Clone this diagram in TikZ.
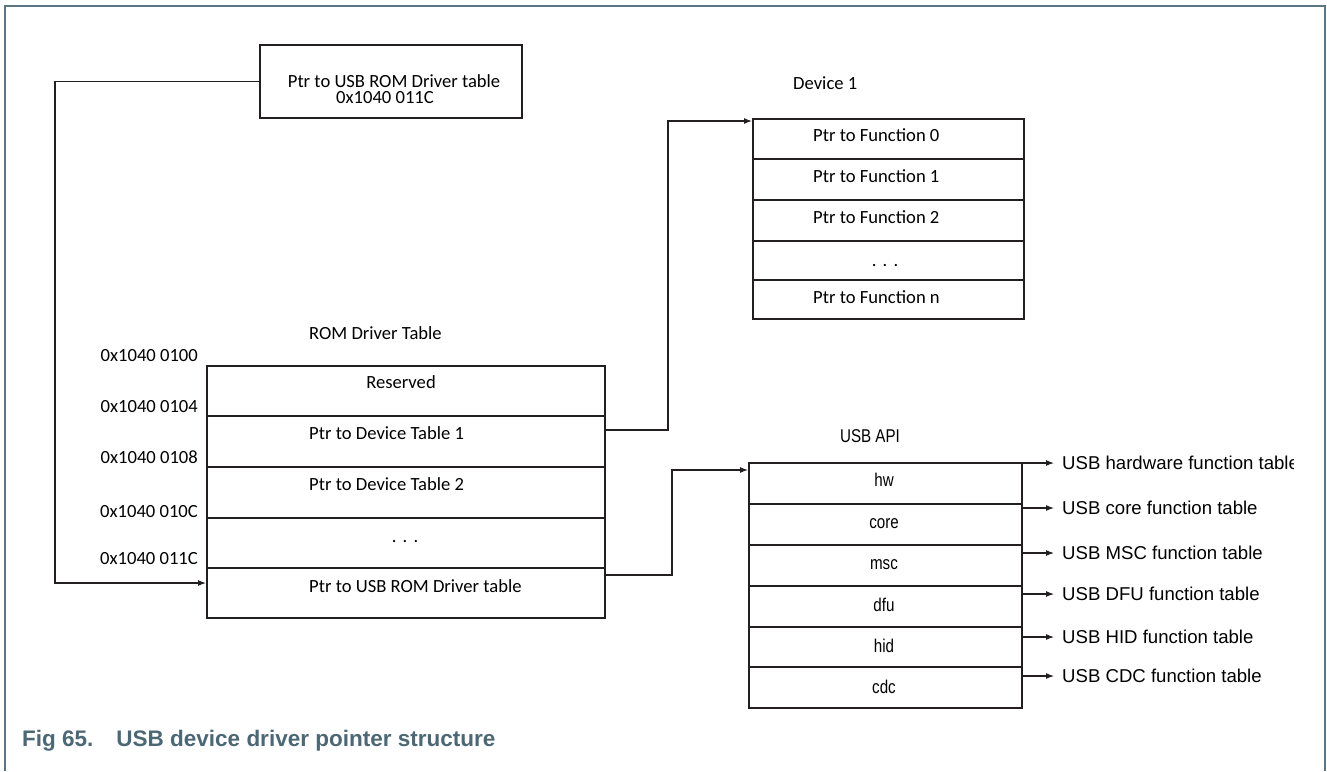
\documentclass[tikz,border=0pt]{standalone}
\usepackage{fontspec}
\setmainfont{Carlito}
\newfontfamily\ari{Liberation Sans}
\newfontfamily\nar[FakeStretch=0.82]{Liberation Sans}
\usetikzlibrary{arrows.meta,calc}
\definecolor{framec}{HTML}{5B7582}
\definecolor{capc}{HTML}{4D6875}
\definecolor{ink}{HTML}{231F20}
\begin{document}
\begin{tikzpicture}[x=1pt,y=-1pt,
  cell/.style={draw=ink,line width=2pt,inner sep=0pt,outer sep=0pt},
  txt/.style={inner sep=0pt,text height=12pt,text depth=0pt,font=\fontsize{18.6}{16}\selectfont},
  ntxt/.style={inner sep=0pt,text height=13pt,text depth=0pt,font=\nar\fontsize{18.5}{18}\selectfont},
  atxt/.style={inner sep=0pt,text height=13.3pt,text depth=0pt,font=\ari\fontsize{18.6}{18}\selectfont},
  conn/.style={draw=ink,line width=1.1pt},
  arr/.style={conn,-{Latex[length=8pt,width=6pt]}},
]
\useasboundingbox (0,0) rectangle (1327,771);
% frame
\draw[framec,line width=1.5pt] (5,771) -- (5,6) -- (1325,6) -- (1325,771);

% top box
\node[cell,minimum width=262pt,minimum height=73pt] (tb) at (391,81.5) {};
\node[txt] (tbt1) at (394,81) {Ptr to USB ROM Driver table};
\node[txt] (tbt2) at (385,97) {0x1040 011C};

% ROM driver table
\node[txt,anchor=west] (romlbl) at (309,333) {ROM Driver Table};
\node[cell,minimum width=398pt,minimum height=50pt] (rres) at (406,391) {};
\node[cell,minimum width=398pt,minimum height=51pt] (rd1) at (406,441.5) {};
\node[cell,minimum width=398pt,minimum height=51pt] (rd2) at (406,492.5) {};
\node[cell,minimum width=398pt,minimum height=50pt] (rdots) at (406,543) {};
\node[cell,minimum width=398pt,minimum height=50pt] (rusb) at (406,593) {};
\node[txt] (trres) at (401,382) {Reserved};
\node[txt,anchor=west] (trd1) at (309,433) {Ptr to Device Table 1};
\node[txt,anchor=west] (trd2) at (309,484) {Ptr to Device Table 2};
\node[txt] (trdots) at (405,536) {.\,\,.\,\,.};
\node[txt,anchor=west] (trusb) at (309,586) {Ptr to USB ROM Driver table};
\node[txt,anchor=east] (ad0) at (198,355) {0x1040 0100};
\node[txt,anchor=east] (ad1) at (198,406) {0x1040 0104};
\node[txt,anchor=east] (ad2) at (198,457) {0x1040 0108};
\node[txt,anchor=east] (ad3) at (198,511) {0x1040 010C};
\node[txt,anchor=east] (ad4) at (198,558) {0x1040 011C};

% Device 1 table
\node[txt,anchor=west] (devlbl) at (793,83) {Device 1};
\node[cell,minimum width=271pt,minimum height=40pt] (f0) at (888.5,139) {};
\node[cell,minimum width=271pt,minimum height=41pt] (f1) at (888.5,179.5) {};
\node[cell,minimum width=271pt,minimum height=41pt] (f2) at (888.5,220.5) {};
\node[cell,minimum width=271pt,minimum height=39pt] (fdots) at (888.5,260.5) {};
\node[cell,minimum width=271pt,minimum height=39pt] (fn) at (888.5,299.5) {};
\node[txt,anchor=west] (tf0) at (813,135) {Ptr to Function 0};
\node[txt,anchor=west] (tf1) at (813,176) {Ptr to Function 1};
\node[txt,anchor=west] (tf2) at (813,217) {Ptr to Function 2};
\node[txt] (tfdots) at (885,260) {.\,\,.\,\,.};
\node[txt,anchor=west] (tfn) at (813,297) {Ptr to Function n};

% USB API table
\node[ntxt] (apilbl) at (870,436) {USB API};
\node[cell,minimum width=273pt,minimum height=41pt] (uhw) at (885.5,483.5) {};
\node[cell,minimum width=273pt,minimum height=41pt] (ucore) at (885.5,524.5) {};
\node[cell,minimum width=273pt,minimum height=41pt] (umsc) at (885.5,565.5) {};
\node[cell,minimum width=273pt,minimum height=41pt] (udfu) at (885.5,606.5) {};
\node[cell,minimum width=273pt,minimum height=40pt] (uhid) at (885.5,647) {};
\node[cell,minimum width=273pt,minimum height=41pt] (ucdc) at (885.5,687.5) {};
\node[ntxt] (thw) at (884,480) {hw};
\node[ntxt] (tcore) at (884,522) {core};
\node[ntxt] (tmsc) at (884,563) {msc};
\node[ntxt] (tdfu) at (884,605) {dfu};
\node[ntxt] (thid) at (884,646) {hid};
\node[ntxt] (tcdc) at (884,687) {cdc};

% right labels
\begin{scope}
\clip (1040,440) rectangle (1293,490);
\node[atxt,anchor=west] (lhw) at (1062,463) {USB hardware function table};
\end{scope}
\node[atxt,anchor=west] (lcore) at (1062,508) {USB core function table};
\node[atxt,anchor=west] (lmsc) at (1062,553) {USB MSC function table};
\node[atxt,anchor=west] (ldfu) at (1062,594) {USB DFU function table};
\node[atxt,anchor=west] (lhid) at (1062,637) {USB HID function table};
\node[atxt,anchor=west] (lcdc) at (1062,676) {USB CDC function table};
\draw[arr] (uhw.east |- lhw.west) -- ([xshift=-8pt]lhw.west);
\draw[arr] (ucore.east |- lcore.west) -- ([xshift=-8pt]lcore.west);
\draw[arr] (umsc.east |- lmsc.west) -- ([xshift=-8pt]lmsc.west);
\draw[arr] (udfu.east |- ldfu.west) -- ([xshift=-8pt]ldfu.west);
\draw[arr] (uhid.east |- lhid.west) -- ([xshift=-8pt]lhid.west);
\draw[arr] (ucdc.east |- lcdc.west) -- ([xshift=-8pt]lcdc.west);

% connectors
\coordinate (a1) at (206,583);
\coordinate (a2) at (752,121);
\coordinate (a3) at (748,470);
\draw[arr] (tb.west) -| (55,583) -- (a1);
\draw[arr] ($(rd1.east)+(0,-11.5)$) -| (668,121) -- (a2);
\draw[arr] ($(rusb.east)+(0,-18)$) -| (672,470) -- (a3);

% caption
\node[inner sep=0pt,anchor=west,text height=16pt,text depth=0pt,font=\ari\bfseries\fontsize{22.5}{24}\selectfont,text=capc] (cap) at (22,738) {Fig 65.\hspace{23pt}USB device driver pointer structure};
\end{tikzpicture}
\end{document}
